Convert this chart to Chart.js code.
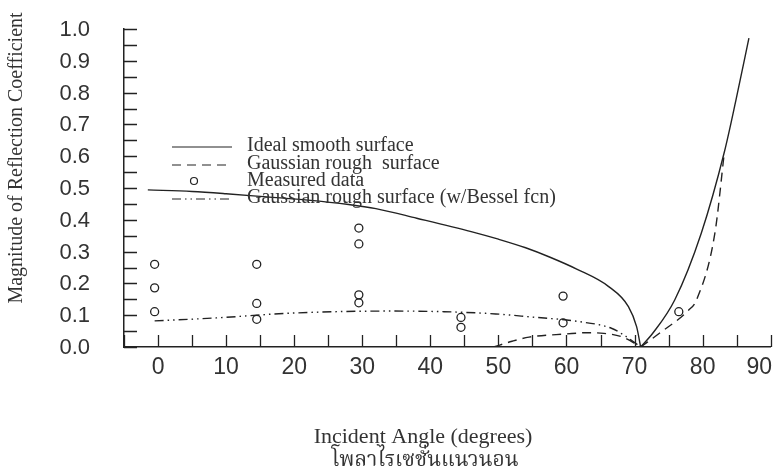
<!DOCTYPE html>
<html>
<head>
<meta charset="utf-8">
<script src="https://cdn.jsdelivr.net/npm/chart.js@4"></script>
<style>
  html, body { margin: 0; padding: 0; background: #fff; }
  #wrap { width: 776px; height: 472px; }
</style>
</head>
<body>
<div id="wrap"><canvas id="chart" width="776" height="472"></canvas></div>
<script>
// ─── Data ─────────────────────────────────────────────────────
const xTickLabels = ['0', '10', '20', '30', '40', '50', '60', '70', '80', '90'];
const yTickLabels = ['0.0', '0.1', '0.2', '0.3', '0.4', '0.5', '0.6', '0.7', '0.8', '0.9', '1.0'];

// Ideal smooth surface (solid), split at the null near 71°
const idealFallAngle = [-1.5, 5, 10, 16, 22, 28, 32, 38, 46, 50, 54, 57.5, 61.5, 66.2, 69.1, 70.3, 70.9];
const idealFallMag   = [0.494, 0.489, 0.482, 0.472, 0.462, 0.448, 0.435, 0.405, 0.363, 0.339, 0.312, 0.283, 0.245, 0.19, 0.127, 0.064, 0];
const idealRiseAngle = [70.9, 72.7, 75.9, 79.8, 83.2, 84.9, 86.8];
const idealRiseMag   = [0, 0.044, 0.148, 0.358, 0.614, 0.777, 0.971];

// Gaussian rough surface (dashed)
const gaussHumpAngle = [49.3, 52, 54.5, 60, 63, 65.5, 68.4, 70.9];
const gaussHumpMag   = [0, 0.018, 0.031, 0.041, 0.045, 0.043, 0.03, 0];
const gaussRiseAngle = [70.9, 73.7, 77.9, 79.1, 81.8, 83.2];
const gaussRiseMag   = [0, 0.044, 0.115, 0.148, 0.358, 0.614];

// Gaussian rough surface with Bessel fcn (dash-dot)
const besselAngle = [-0.5, 9, 19, 34, 42, 49.6, 54.5, 61.8, 66.6, 68.4, 70.9];
const besselMag   = [0.082, 0.092, 0.106, 0.113, 0.111, 0.104, 0.095, 0.08, 0.059, 0.038, 0];

// Measured data (circles)
const measAngle = [-0.5, -0.5, -0.5, 14.5, 14.5, 14.5, 29.5, 29.5, 29.5, 29.5, 44.5, 44.5, 59.5, 59.5, 76.5];
const measMag   = [0.26, 0.186, 0.111, 0.26, 0.137, 0.087, 0.374, 0.324, 0.164, 0.139, 0.093, 0.062, 0.16, 0.076, 0.111];

const legendLabels = [
  'Ideal smooth surface',
  'Gaussian rough  surface',
  'Measured data',
  'Gaussian rough surface (w/Bessel fcn)',
];
const yTitle = 'Magnitude of Reflection Coefficient';
const xTitle = 'Incident Angle (degrees)';
const caption = 'โพลาไรเซชั่นแนวนอน';

// ─── Styles ───────────────────────────────────────────────────
const INK   = '#222';
const TEXT  = '#333';
const DASH  = [9, 6];
const DDOT  = [9, 4, 1.5, 4, 1.5, 4];
const SERIF = "'Liberation Serif', 'DejaVu Serif', serif";
const SANS  = "'Liberation Sans', Arial, sans-serif";

const pts = (xs, ys) => xs.map((x, i) => ({ x, y: ys[i] }));

function curve(data, dash) {
  return {
    data, showLine: true, borderColor: INK, borderWidth: 1.4, borderDash: dash,
    pointRadius: 0, cubicInterpolationMode: 'monotone', fill: false,
  };
}

// ─── Plugins ──────────────────────────────────────────────────
// Inward tick marks + tick labels, placed from the chart's own scales
const axisPlugin = {
  id: 'inwardAxes',
  afterDraw(chart) {
    const { ctx, chartArea: a, scales: { x, y } } = chart;
    ctx.save();
    ctx.strokeStyle = INK; ctx.lineWidth = 1.3;
    ctx.beginPath();
    y.ticks.forEach(t => {
      const py = Math.round(y.getPixelForValue(t.value)) + 0.5;
      ctx.moveTo(a.left, py); ctx.lineTo(a.left + 13, py);
    });
    x.ticks.forEach(t => {
      const px = Math.round(x.getPixelForValue(t.value)) + 0.5;
      ctx.moveTo(px, a.bottom); ctx.lineTo(px, a.bottom - 12);
    });
    ctx.stroke();

    ctx.fillStyle = TEXT;
    ctx.font = '22px ' + SANS;
    ctx.textBaseline = 'middle';
    ctx.textAlign = 'right';
    yTickLabels.forEach((lab, i) => {
      ctx.fillText(lab, a.left - 34, y.getPixelForValue(i / 10) + 1);
    });
    ctx.font = '23px ' + SANS;
    ctx.textAlign = 'center';
    xTickLabels.forEach((lab, i) => {
      const w = ctx.measureText(lab).width;
      const px = Math.min(x.getPixelForValue(i * 10), chart.width - 4 - w / 2);
      ctx.fillText(lab, px, a.bottom + 21);
    });
    ctx.restore();
  },
};

const legendPlugin = {
  id: 'insideLegend',
  afterDatasetsDraw(chart) {
    const { ctx, chartArea: a } = chart;
    const x0 = a.left + 48, x1 = a.left + 108, tx = a.left + 123;
    const rows = [a.top + 117, a.top + 135, a.top + 152, a.top + 169];
    ctx.save();
    ctx.strokeStyle = INK; ctx.lineWidth = 1.2;
    const dashes = [[], DASH, null, DDOT];
    rows.forEach((yy, i) => {
      if (dashes[i]) {
        ctx.setLineDash(dashes[i]);
        ctx.beginPath(); ctx.moveTo(x0, yy + 1); ctx.lineTo(x1, yy + 1); ctx.stroke();
      } else {
        ctx.setLineDash([]);
        ctx.beginPath(); ctx.arc((x0 + x1) / 2 - 8, yy, 3.5, 0, Math.PI * 2); ctx.stroke();
      }
      ctx.setLineDash([]);
      ctx.fillStyle = TEXT;
      ctx.font = '20px ' + SERIF;
      ctx.textBaseline = 'middle';
      ctx.fillText(legendLabels[i], tx, yy);
    });
    ctx.restore();
  },
};

const titlesPlugin = {
  id: 'freeTitles',
  afterDraw(chart) {
    const { ctx, chartArea: a } = chart;
    ctx.save();
    ctx.fillStyle = TEXT;
    ctx.textAlign = 'center';
    ctx.textBaseline = 'middle';
    // y title, rotated, sitting high like the scan
    ctx.save();
    ctx.translate(17, a.top + 129);
    ctx.rotate(-Math.PI / 2);
    ctx.font = '20px ' + SERIF;
    ctx.fillText(yTitle, 0, 0);
    ctx.restore();
    // x title
    ctx.font = '22px ' + SERIF;
    ctx.fillText(xTitle, a.left + 299, a.bottom + 90);
    // Thai caption
    ctx.font = "21px 'Noto Serif Thai', 'Noto Sans Thai', 'Tlwg Typo', Norasi, Garuda, " + SERIF;
    ctx.fillText(caption, a.left + 301, a.bottom + 116);
    ctx.restore();
  },
};

// ─── Chart ────────────────────────────────────────────────────
new Chart(document.getElementById('chart').getContext('2d'), {
  type: 'scatter',
  data: {
    datasets: [
      curve(pts(idealFallAngle, idealFallMag), []),
      curve(pts(idealRiseAngle, idealRiseMag), []),
      curve(pts(gaussHumpAngle, gaussHumpMag), DASH),
      curve(pts(gaussRiseAngle, gaussRiseMag), DASH),
      curve(pts(besselAngle, besselMag), DDOT),
      {
        data: pts(measAngle, measMag), showLine: false,
        pointStyle: 'circle', pointRadius: 4, pointBorderWidth: 1.3,
        pointBorderColor: INK, pointBackgroundColor: 'rgba(0,0,0,0)',
      },
    ],
  },
  options: {
    responsive: false,
    animation: false,
    events: [],
    layout: { padding: { left: 124, right: 5, top: 29, bottom: 125 } },
    plugins: { legend: { display: false }, tooltip: { enabled: false } },
    scales: {
      x: {
        type: 'linear', min: -5, max: 90,
        border: { color: INK, width: 1.5 },
        grid: { display: false, drawTicks: false },
        ticks: { display: false, stepSize: 5, autoSkip: false },
      },
      y: {
        type: 'linear', min: 0, max: 1,
        border: { color: INK, width: 1.5 },
        grid: { display: false, drawTicks: false },
        ticks: { display: false, stepSize: 0.05, autoSkip: false },
      },
    },
  },
  plugins: [axisPlugin, legendPlugin, titlesPlugin],
});
</script>
</body>
</html>
